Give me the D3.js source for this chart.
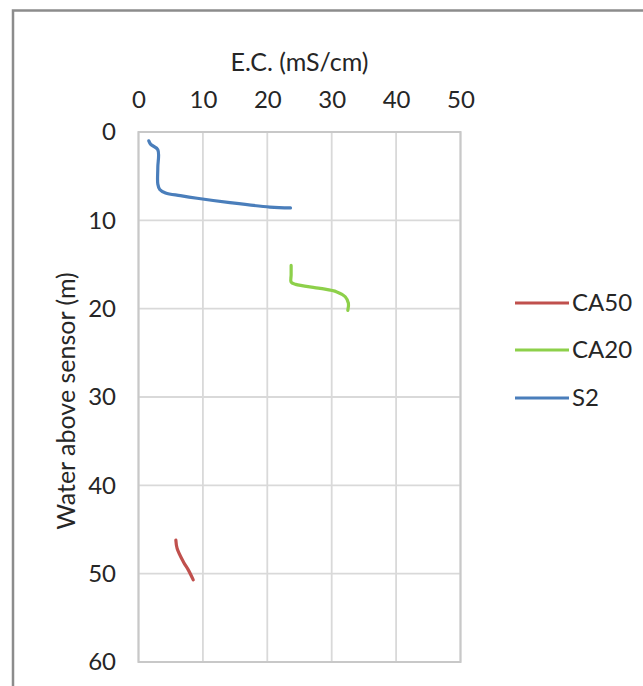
<!DOCTYPE html>
<html><head><meta charset="utf-8">
<script src="https://cdn.jsdelivr.net/npm/d3@7"></script>
<style>html,body{margin:0;padding:0;background:#fff;}svg{display:block;}</style>
</head><body>
<script>
const xTicks = [0, 10, 20, 30, 40, 50];
const yTicks = [0, 10, 20, 30, 40, 50, 60];
const seriesNames = ["CA50", "CA20", "S2"];
const seriesColors = ["#C0504D", "#8DD04A", "#4A7EBB"];
// [E.C., water above sensor]
const S2 = [[1.6,1.0],[1.9,1.4],[3.0,2.0],[3.0,4.0],[3.0,5.9],[3.3,6.5],[4.2,6.9],[6.5,7.2],[9.1,7.5],[14.2,8.0],[20.4,8.5],[23.6,8.6]];
const CA20 = [[23.7,15.1],[23.7,16.2],[23.7,17.0],[24.4,17.25],[28.2,17.7],[30.8,18.1],[32.1,18.65],[32.6,19.4],[32.5,20.2]];
const CA50 = [[5.8,46.2],[6.0,47.15],[7.0,48.7],[7.75,49.6],[8.5,50.7]];
const seriesData = [CA50, CA20, S2];

const W = 643, H = 686;
const font = "Lato, 'Open Sans', sans-serif";
const txt = "#262626";
const svg = d3.select("body").append("svg").attr("width", W).attr("height", H);

svg.append("rect").attr("x",13).attr("y",10.5).attr("width",W+10).attr("height",H+10)
  .attr("fill","#fff").attr("stroke","#8c8c8c").attr("stroke-width",2.5);

const x = d3.scaleLinear().domain([0,50]).range([138.5, 460.5]);
const y = d3.scaleLinear().domain([0,60]).range([132, 662]);

const g = svg.append("g");
g.selectAll(".vx").data(xTicks).join("line")
  .attr("x1",d=>x(d)).attr("x2",d=>x(d)).attr("y1",y(0)).attr("y2",y(60))
  .attr("stroke","#d9d9d9").attr("stroke-width",1.8);
g.selectAll(".hy").data(yTicks).join("line")
  .attr("y1",d=>y(d)).attr("y2",d=>y(d)).attr("x1",x(0)).attr("x2",x(50))
  .attr("stroke","#d9d9d9").attr("stroke-width",1.8);
g.append("rect").attr("x",x(0)).attr("y",y(0)).attr("width",x(50)-x(0)).attr("height",y(60)-y(0))
  .attr("fill","none").attr("stroke","#c8c8c8").attr("stroke-width",2);

const xAxis = d3.axisTop(x).tickValues(xTicks).tickSize(0).tickPadding(0);
const xa = svg.append("g").attr("transform",`translate(0,100)`).call(xAxis);
xa.select(".domain").remove();
xa.selectAll("text").attr("font-family",font).attr("font-size",24).attr("fill",txt).attr("dy","0.35em").attr("y",0);

const yAxis = d3.axisLeft(y).tickValues(yTicks).tickSize(0).tickPadding(0);
const ya = svg.append("g").attr("transform",`translate(116,0)`).call(yAxis);
ya.select(".domain").remove();
ya.selectAll("text").attr("font-family",font).attr("font-size",24).attr("fill",txt);

svg.append("text").attr("x",(x(0)+x(50))/2).attr("y",62).attr("dy","0.35em").attr("text-anchor","middle")
  .attr("font-family",font).attr("font-size",25).attr("fill",txt).text("E.C. (mS/cm)");
svg.append("text").attr("transform",`translate(66,${(y(0)+y(60))/2 + 4}) rotate(-90)`).attr("dy","0.35em").attr("text-anchor","middle")
  .attr("font-family",font).attr("font-size",25).attr("fill",txt).text("Water above sensor (m)");

const line = d3.line().x(d=>x(d[0])).y(d=>y(d[1])).curve(d3.curveCatmullRom.alpha(0.5));
seriesData.forEach((s,i)=>{
  svg.append("path").datum(s).attr("d",line).attr("fill","none")
    .attr("stroke",seriesColors[i]).attr("stroke-width",3.2).attr("stroke-linecap","round").attr("stroke-linejoin","round");
});

const legY = [303, 350, 398];
seriesNames.forEach((n,i)=>{
  svg.append("line").attr("x1",515).attr("x2",569).attr("y1",legY[i]).attr("y2",legY[i])
    .attr("stroke",seriesColors[i]).attr("stroke-width",3.2);
  svg.append("text").attr("x",572).attr("y",legY[i]).attr("dy","0.35em")
    .attr("font-family",font).attr("font-size",24).attr("fill",txt).text(n);
});
</script>
</body></html>
